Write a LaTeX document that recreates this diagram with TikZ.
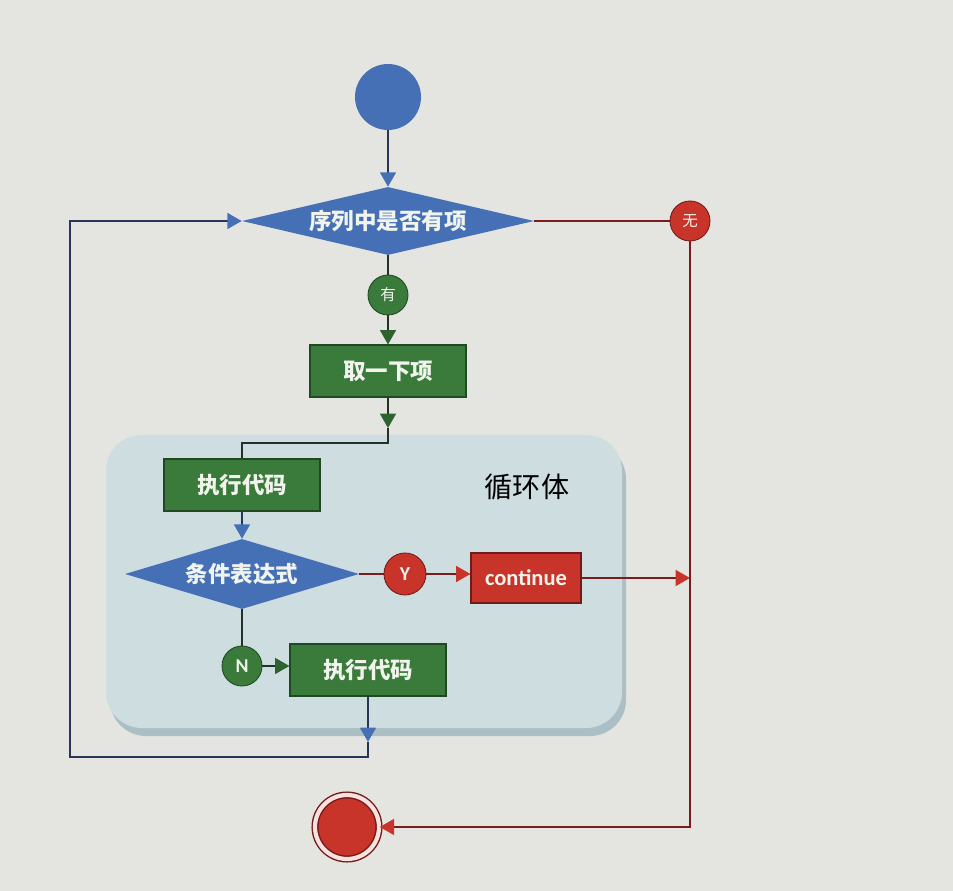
\documentclass[tikz,border=0pt]{standalone}
\usepackage{fontspec}
\setmainfont{Carlito}
\newfontfamily\cjk{Noto Sans CJK SC}
\usepackage{xcolor}
\usepackage{tikz}
\usetikzlibrary{shapes.geometric, positioning, arrows.meta, calc}
\definecolor{pagebg}{RGB}{228,229,225}
\definecolor{bodybg}{RGB}{206,221,223}
\definecolor{bodyshade}{RGB}{172,191,197}
\definecolor{flowblue}{RGB}{70,112,182}
\definecolor{flowgreen}{RGB}{58,122,58}
\definecolor{greenframe}{RGB}{32,72,34}
\definecolor{flowred}{RGB}{200,52,42}
\definecolor{redframe}{RGB}{112,26,26}
\definecolor{lineblue}{RGB}{40,52,88}
\definecolor{linered}{RGB}{122,28,30}
\definecolor{linegreen}{RGB}{34,50,36}
\definecolor{textlight}{RGB}{240,244,236}
\definecolor{ringlight}{RGB}{250,225,222}

\begin{document}
\begin{tikzpicture}[x=0.025cm, y=-0.025cm,
        startnode/.style={circle, fill=flowblue, minimum size=1.65cm, inner sep=0pt},
        decision/.style={diamond, aspect=5, fill=flowblue, inner sep=0pt, text=textlight, font=\cjk\bfseries\fontsize{16}{18}\selectfont},
        stepbox/.style={rectangle, fill=flowgreen, draw=greenframe, line width=0.8pt, minimum width=3.9cm, minimum height=1.3cm, text=textlight, font=\cjk\bfseries\fontsize{16}{18}\selectfont},
        greentag/.style={circle, fill=flowgreen, draw=greenframe, line width=0.6pt, minimum size=1cm, inner sep=0pt, text=textlight},
        redtag/.style={circle, fill=flowred, draw=redframe, line width=0.6pt, minimum size=1cm, inner sep=0pt, text=textlight},
        blueline/.style={draw=lineblue, line width=1.3pt},
        greenline/.style={draw=linegreen, line width=1.3pt},
        redline/.style={draw=linered, line width=1.3pt},
        bluearr/.style={blueline, -{Triangle[length=3.6mm, width=4mm, color=flowblue]}},
        greenarr/.style={greenline, -{Triangle[length=3.6mm, width=4mm, color=flowgreen!80!black]}},
        redarr/.style={redline, -{Triangle[length=3.6mm, width=4mm, color=flowred]}}
    ]

    \fill[pagebg] (0,0) rectangle (953,891);
    \useasboundingbox (0,0) rectangle (953,891);

    % loop body
    \fill[bodyshade, rounded corners=0.9cm] (110,443) rectangle (626,736);
    \fill[bodybg, rounded corners=0.9cm] (106,435) rectangle (622,728);
    \node[font=\cjk\fontsize{20}{22}\selectfont] (bodylabel) at (527,487) {循环体};

    \node[startnode] (start) at (388,97) {};
    \node[decision, minimum width=7.3cm, minimum height=1.7cm] (seq) at (388,221) {序列中是否有项};
    \node[greentag, font=\cjk\fontsize{11}{12}\selectfont] (has) at (388,295) {有};
    \node[stepbox] (fetch) at (388,371) {取一下项};
    \node[redtag, font=\cjk\fontsize{11}{12}\selectfont] (none) at (690,221) {无};

    \node[stepbox] (exec1) at (242,485) {执行代码};
    \node[decision, minimum width=5.85cm, minimum height=1.75cm] (cond) at (242,574) {条件表达式};
    \node[redtag, minimum size=1.05cm, font=\bfseries\fontsize{14}{16}\selectfont] (yes) at (405,574) {Y};
    \node[rectangle, fill=flowred, draw=redframe, line width=0.8pt, minimum width=2.75cm, minimum height=1.25cm, text=textlight, font=\bfseries\fontsize{16}{18}\selectfont] (cont) at (526,578) {continue};
    \node[greentag, font=\bfseries\fontsize{14}{16}\selectfont] (no) at (242,666) {N};
    \node[stepbox] (exec2) at (368,670) {执行代码};

    \node[circle, fill=flowred, draw=redframe, line width=1pt, double=ringlight, double distance=3pt, minimum size=1.6cm, inner sep=0pt] (stop) at (347,827) {};

    \coordinate (tipA) at (388,428);
    \coordinate (turnA) at (388,443);
    \coordinate (tipB) at (368,742);
    \coordinate (leftcorner) at (70,757);
    \coordinate (merge) at (none |- cont);

    \draw[bluearr] (start) -- (seq);
    \draw[greenline] (seq) -- (has);
    \draw[greenarr] (has) -- (fetch);
    \draw[greenarr] (fetch) -- (tipA);
    \draw[greenline] (tipA) -- (turnA) -| (exec1.north);
    \draw[bluearr] (exec1) -- (cond);
    \draw[redline] (cond.east) -- (yes);
    \draw[redarr] (yes) -- (yes -| cont.west);
    \draw[redarr] (cont) -- (merge);
    \draw[greenline] (cond.south) -- (no);
    \draw[greenarr] (no) -- (no -| exec2.west);
    \draw[bluearr] (exec2) -- (tipB);
    \draw[bluearr] (tipB) |- (leftcorner) |- (seq.west);
    \draw[redline] (seq.east) -- (none);
    \draw[redarr] (none) |- (stop);

\end{tikzpicture}
\end{document}
